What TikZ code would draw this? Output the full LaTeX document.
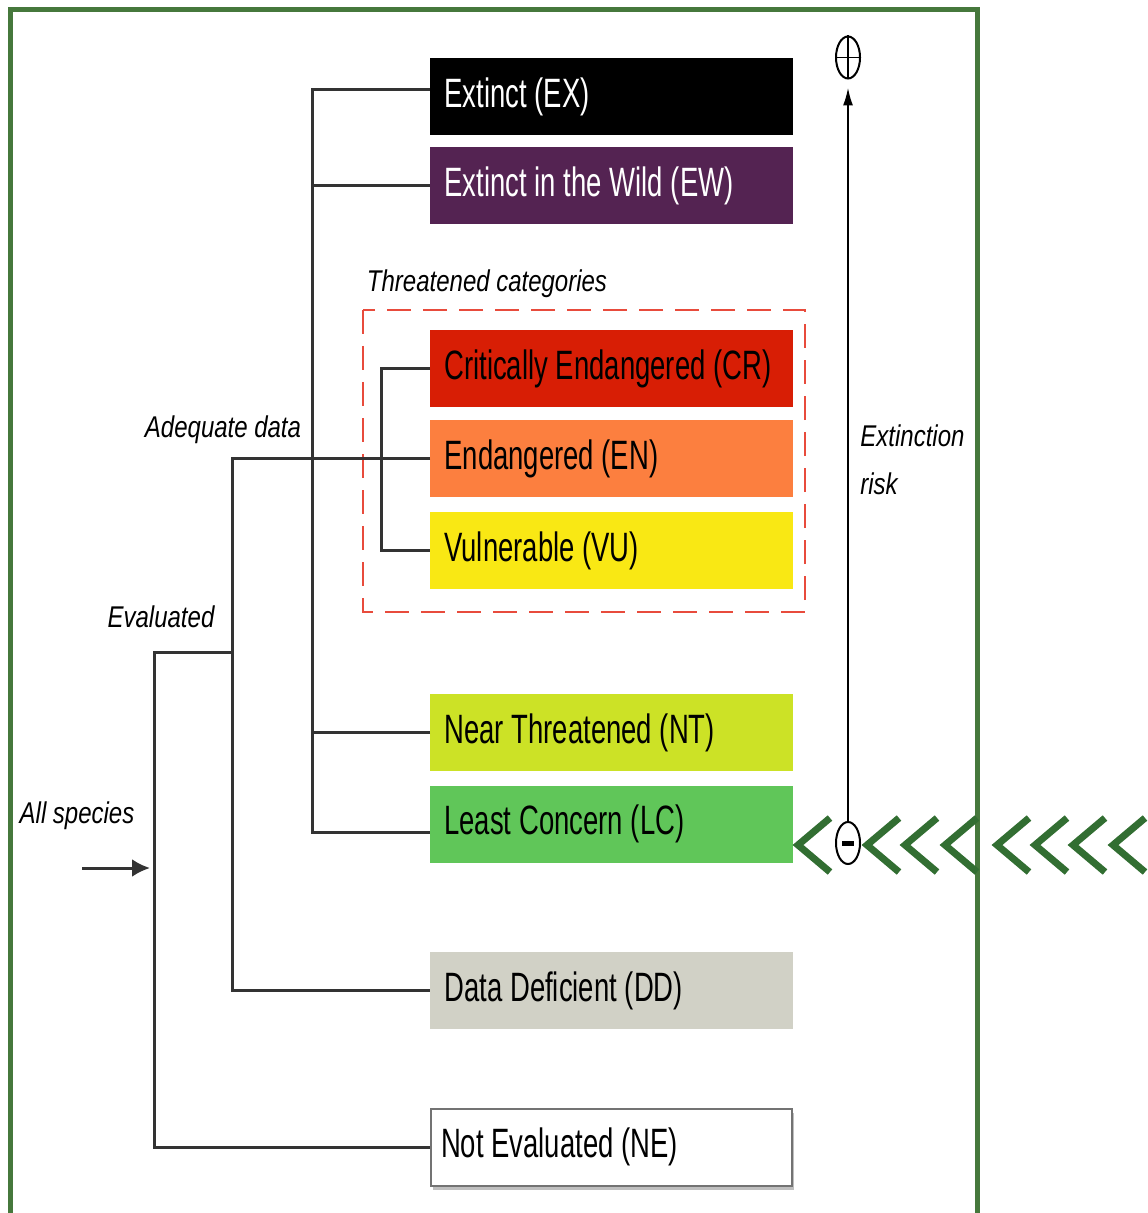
\documentclass[tikz,border=0pt]{standalone}
\usepackage{fontspec}
\setmainfont{Liberation Sans}
\newfontfamily\catfont[FakeStretch=0.67]{Liberation Sans}
\newfontfamily\lblfont[FakeStretch=0.8]{Liberation Sans}
\usetikzlibrary{arrows.meta,shapes,positioning,shadows}
\definecolor{exblack}{RGB}{0,0,0}
\definecolor{ewpurple}{RGB}{84,35,82}
\definecolor{crred}{RGB}{216,30,5}
\definecolor{enorange}{RGB}{252,127,63}
\definecolor{vuyellow}{RGB}{249,232,20}
\definecolor{ntgreen}{RGB}{204,226,38}
\definecolor{lcgreen}{RGB}{96,198,89}
\definecolor{ddgrey}{RGB}{209,209,198}
\definecolor{framegreen}{RGB}{70,120,60}
\definecolor{chevgreen}{RGB}{50,110,50}
\definecolor{threatred}{RGB}{232,75,60}

\begin{document}
\begin{tikzpicture}[x=0.5pt,y=-0.5pt,
    cat/.style={rectangle,anchor=west,minimum height=38.5pt,text width=167.5pt,
      inner xsep=7pt,inner ysep=0pt,align=flush left,
      font=\catfont\fontsize{20.5}{24}\selectfont,
      execute at begin node={\spaceskip=0.19em\relax}},
    lbl/.style={font=\lblfont\itshape\fontsize{15}{18}\selectfont,inner sep=0pt,
      execute at begin node={\spaceskip=0.22em\relax}},
    tree/.style={draw=black!80,line width=1.5pt},
    chevron/.style={draw=chevgreen,line width=3.5pt},
    sign/.style={ellipse,draw,line width=1pt,minimum width=12pt,minimum height=21pt,inner sep=0pt,fill=white}]
\useasboundingbox (0,0) rectangle (1147,1213);
% frame
\draw[framegreen,line width=2.5pt] (10,1213) -- (10,10) -- (977,10) -- (977,1213);

% categories
\node[cat,fill=exblack,text=white] (ex) at (430,96.5) {Extinct (EX)};
\node[cat,fill=ewpurple,text=white] (ew) at (430,185.5) {Extinct in the Wild (EW)};
\node[cat,fill=crred] (cr) at (430,368.5) {Critically Endangered (CR)};
\node[cat,fill=enorange] (en) at (430,458.5) {Endangered (EN)};
\node[cat,fill=vuyellow] (vu) at (430,550.5) {Vulnerable (VU)};
\node[cat,fill=ntgreen] (nt) at (430,732.5) {Near Threatened (NT)};
\node[cat,fill=lcgreen] (lc) at (430,824) {Least Concern (LC)};
\node[cat,fill=ddgrey] (dd) at (430,990.5) {Data Deficient (DD)};
\node[cat,draw=black!55,line width=1pt,fill=white,inner xsep=5pt,text width=170.5pt,
  drop shadow={shadow xshift=1pt,shadow yshift=-2pt,opacity=0.5}] (ne) at (430,1147) {Not Evaluated (NE)};

% threatened group
\draw[threatred,line width=1pt,dash pattern=on 12pt off 6pt] (363,310) rectangle (805,612);
\node[lbl] (threatlbl) at (487,284) {Threatened categories};

% tree
\draw[tree] ([yshift=3.25pt]ex.west) -- ++(-118,0) |- ([yshift=-4pt]lc.west);
\draw[tree] (ew.west) -- ++(-118,0);
\draw[tree] (nt.west) -- ++(-118,0);
\draw[tree] (cr.west) -- ++(-49,0) |- (vu.west);
\draw[tree] (en.west) -- ++(-198,0) |- (dd.west);
\coordinate (split) at (232,652);
\draw[tree] (split) -- ++(-78,0) |- (ne.west);
\coordinate (allfrom) at (82,868);
\coordinate (allto) at (150,868);
\draw[tree,-{Latex[length=9pt,width=9pt]}] (allfrom) -- (allto);

\node[lbl] (adeq) at (223,430) {Adequate data};
\node[lbl] (evald) at (161,617) {Evaluated};
\node[lbl] (allsp) at (77,816) {All species};

% extinction risk
\foreach \cx in {798,867,905,945,997,1035,1073,1113}
  \draw[chevron] (\cx+32,818) -- (\cx,845) -- (\cx+32,872);
\node[sign] (pos) at (848,57.5) {};
\draw[line width=0.8pt] (pos.north) -- (pos.south) (pos.west) -- (pos.east);
\node[sign] (neg) at (848,843) {};
\draw[line width=2.5pt] (neg.center) ++(-6,0) -- ++(12,0);
\draw[line width=1pt,-{Latex[length=9pt,width=5pt]},shorten >=4pt] (neg.north) -- (pos.south);
\node[lbl,anchor=north west,align=left,font=\lblfont\itshape\fontsize{15}{24}\selectfont] (risk) at (860,424) {Extinction\\risk};
\end{tikzpicture}
\end{document}
